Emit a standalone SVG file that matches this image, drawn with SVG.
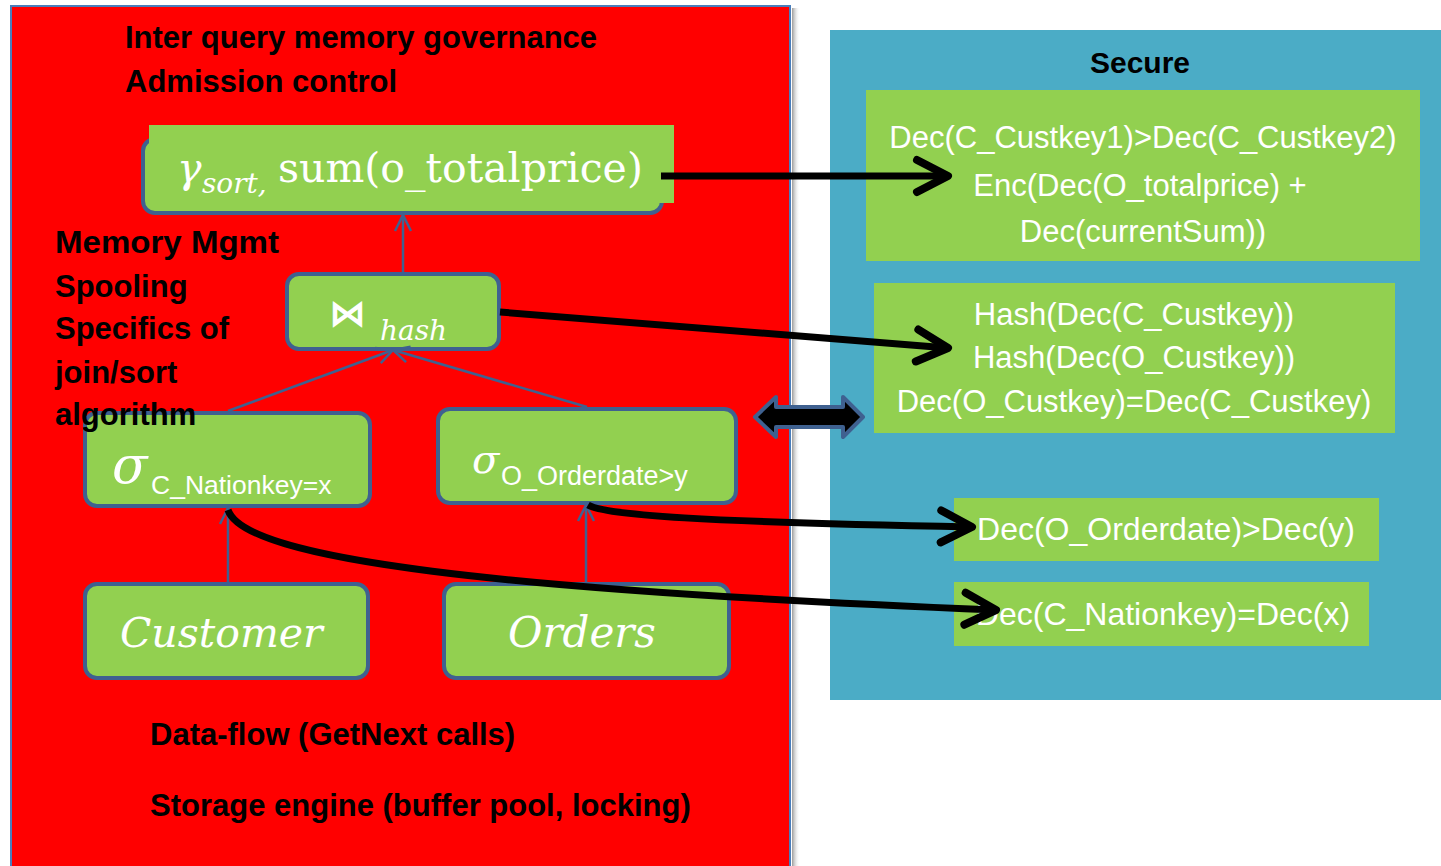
<svg xmlns="http://www.w3.org/2000/svg" width="1441" height="866" viewBox="0 0 1441 866">
<style>
.lbl{font-family:"Liberation Sans",Arial,sans-serif;font-weight:bold;font-size:31px;fill:#000}
.node{fill:#92D050;stroke:#3F6190;stroke-width:4}
.math{font-family:"DejaVu Serif",serif;fill:#fff}
.it{font-style:italic}
.sans{font-family:"Liberation Sans",Arial,sans-serif;fill:#fff}
.box{fill:#92D050}
.rt{font-family:"Liberation Sans",Arial,sans-serif;font-size:31px;fill:#fff;text-anchor:middle}
.flow{fill:none;stroke:#3F6190;stroke-width:2.5;marker-end:url(#blueHead)}
.big{fill:none;stroke:#000;stroke-width:7;marker-end:url(#blackHead)}
</style>
<defs>
<marker id="blueHead" markerUnits="userSpaceOnUse" viewBox="-20 -12 24 24" refX="0" refY="0" markerWidth="24" markerHeight="24" orient="auto" overflow="visible">
<path d="M-16,-8 L0,0 L-16,8" fill="none" stroke="#3F6190" stroke-width="2.5"/>
</marker>
<marker id="blackHead" markerUnits="userSpaceOnUse" viewBox="-40 -24 48 48" refX="0" refY="0" markerWidth="48" markerHeight="48" orient="auto" overflow="visible">
<path d="M-31,-16 L0,0 L-31,16" fill="none" stroke="#000" stroke-width="8" stroke-linecap="round" stroke-linejoin="round"/>
</marker>
<linearGradient id="shadow" x1="0" y1="0" x2="1" y2="0">
<stop offset="0" stop-color="#9a9a9a"/>
<stop offset="1" stop-color="#ffffff" stop-opacity="0"/>
</linearGradient>
</defs>
<rect width="1441" height="866" fill="#fff"/>
<g id="untrusted-panel">
<rect x="792" y="8" width="8" height="860" fill="url(#shadow)"/>
<rect x="11" y="6" width="779" height="870" fill="#FF0000" stroke="#4A7EBB" stroke-width="2"/>
</g>
<g id="secure-panel">
<rect x="830" y="30" width="611" height="670" fill="#4BACC6"/>
<text x="1140" y="73" class="lbl" style="font-size:30px" text-anchor="middle">Secure</text>
</g>
<g id="node-aggregate">
<rect x="143" y="139" width="519" height="74" rx="12" class="node"/>
<rect x="149" y="125" width="525" height="78" fill="#92D050"/>
<text x="177" y="182" class="math it" font-size="41">γ</text>
<text x="202" y="193" class="math it" font-size="28">sort,</text>
<text x="278" y="182" class="math" font-size="41">sum(o_totalprice)</text>
</g>
<g id="node-hashjoin">
<rect x="287" y="274" width="212" height="75" rx="12" class="node"/>
<text x="329" y="326" font-family="DejaVu Sans,sans-serif" font-weight="bold" font-size="37" fill="#fff">⋈</text>
<text x="380" y="340" class="math it" font-size="28">hash</text>
</g>
<g id="node-select-c">
<rect x="85" y="413" width="285" height="93" rx="12" class="node"/>
<text x="112" y="483" class="math it" font-size="52">σ</text>
<text x="151" y="494" class="sans" font-size="26.5">C_Nationkey=x</text>
</g>
<g id="node-select-o">
<rect x="438" y="409" width="298" height="94" rx="12" class="node"/>
<text x="472" y="473" class="math it" font-size="40">σ</text>
<text x="501" y="485" class="sans" font-size="27">O_Orderdate&gt;y</text>
</g>
<g id="node-customer">
<rect x="85" y="584" width="283" height="94" rx="12" class="node"/>
<text x="120" y="647" class="math it" font-size="41">Customer</text>
</g>
<g id="node-orders">
<rect x="444" y="584" width="285" height="94" rx="12" class="node"/>
<text x="508" y="647" class="math it" font-size="42">Orders</text>
</g>
<g id="labels">
<text x="125" y="48" class="lbl">Inter query memory governance</text>
<text x="125" y="92" class="lbl">Admission control</text>
<text x="55" y="253" class="lbl" textLength="224" lengthAdjust="spacingAndGlyphs">Memory Mgmt</text>
<text x="55" y="297" class="lbl">Spooling</text>
<text x="55" y="339" class="lbl">Specifics of</text>
<text x="55" y="383" class="lbl">join/sort</text>
<text x="55" y="425" class="lbl">algorithm</text>
<text x="150" y="745" class="lbl">Data-flow (GetNext calls)</text>
<text x="150" y="816" class="lbl">Storage engine (buffer pool, locking)</text>
</g>
<g id="secure-agg">
<rect x="866" y="90" width="554" height="171" class="box"/>
<text x="1143" y="148" class="rt">Dec(C_Custkey1)&gt;Dec(C_Custkey2)</text>
<text x="1140" y="196" class="rt">Enc(Dec(O_totalprice) +</text>
<text x="1143" y="242" class="rt">Dec(currentSum))</text>
</g>
<g id="secure-join">
<rect x="874" y="283" width="521" height="150" class="box"/>
<text x="1134" y="325" class="rt">Hash(Dec(C_Custkey))</text>
<text x="1134" y="368" class="rt">Hash(Dec(O_Custkey))</text>
<text x="1134" y="412" class="rt">Dec(O_Custkey)=Dec(C_Custkey)</text>
</g>
<g id="secure-orderdate">
<rect x="954" y="498" width="425" height="63" class="box"/>
<text x="1166" y="540" class="rt" style="font-size:32px">Dec(O_Orderdate)&gt;Dec(y)</text>
</g>
<g id="secure-nationkey">
<rect x="954" y="582" width="415" height="64" class="box"/>
<text x="1163" y="625" class="rt" style="font-size:32px">Dec(C_Nationkey)=Dec(x)</text>
</g>
<g id="connectors">
<line x1="403" y1="274" x2="403" y2="215" class="flow"/>
<line x1="228" y1="411" x2="393" y2="350" class="flow"/>
<line x1="587" y1="407" x2="393" y2="350" class="flow"/>
<line x1="228" y1="584" x2="228" y2="508" class="flow"/>
<line x1="586" y1="584" x2="586" y2="505" class="flow"/>
<line x1="661" y1="176" x2="948" y2="176" class="big"/>
<line x1="500" y1="312" x2="948" y2="348" class="big"/>
<path d="M588,505 C605,515 700,522 972,527" class="big"/>
<path d="M228,510 C245,560 500,590 996,610" class="big"/>
<polygon points="755,417 776,397 776,407 843,407 843,397 863,417 843,437 843,427 776,427 776,437" fill="#000" stroke="#3F6190" stroke-width="4" stroke-linejoin="round"/>
</g>
</svg>
